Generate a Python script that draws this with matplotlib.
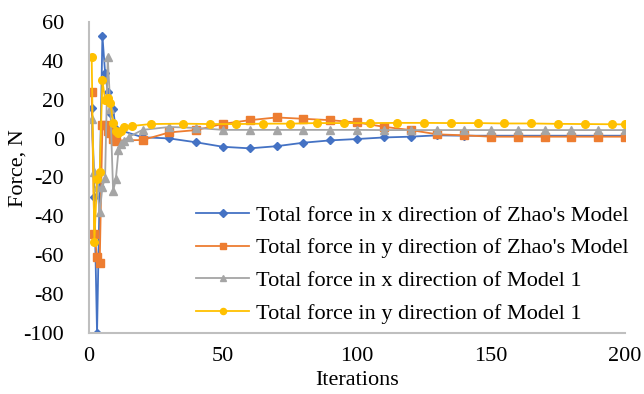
import matplotlib
matplotlib.use("Agg")
import matplotlib.pyplot as plt

plt.rcParams['font.family'] = ['Liberation Serif', 'DejaVu Serif']
plt.rcParams['axes.unicode_minus'] = False

# Zhao's model, sampled every iteration up to 10, then every 10
zhao_iter = [1, 2, 3, 4, 5, 6, 7, 8, 9, 10,
             20, 30, 40, 50, 60, 70, 80, 90, 100,
             110, 120, 130, 140, 150, 160, 170, 180, 190, 200]
zhao_fx = [16, -30, -100, -25, 53, 34, 24, 13, 15, 5,
           0.7, 0.1, -1.9, -4.2, -5.0, -3.9, -2.1, -0.9, -0.2,
           0.6, 1.0, 1.7, 1.5, 1.5, 1.5, 1.5, 1.5, 1.5, 1.5]
zhao_fy = [24, -49, -61, -64, 7, 7, 4, 3, 0, -1,
           -0.7, 3.2, 4.4, 7.6, 9.5, 10.9, 10.2, 9.5, 8.3,
           6.1, 4.4, 2.2, 1.7, 1.0, 1.0, 1.0, 1.0, 1.0, 1.0]

# Model 1
m1x_iter = [1, 2, 3, 4, 5, 6, 7, 8, 9, 10, 11, 12, 13, 15,
            20, 30, 40, 50, 60, 70, 80, 90, 100,
            110, 120, 130, 140, 150, 160, 170, 180, 190, 200]
m1_fx = [10, -17, -25, -38, -25, -20, 42, 15, -27, -21, -6, -3, -1, 1,
         4.5, 6.0, 5.5, 4.5, 4.5, 4.5, 4.5, 4.5, 4.5,
         4.4, 4.4, 4.4, 4.4, 4.4, 4.4, 4.4, 4.4, 4.4, 4.4]

m1y_iter = [1, 2, 3, 4, 5, 6, 7, 8, 9, 10, 11, 12, 13, 16, 23,
            35, 45, 55, 65, 75, 85, 95, 105, 115, 125, 135,
            145, 155, 165, 175, 185, 195, 200]
m1_fy = [42, -53, -21, -17, 30, 20, 21, 18.5, 8, 4, 3, 4, 6, 6.5, 7.5,
         7.7, 7.5, 7.5, 7.7, 7.7, 8.0, 8.0, 8.0, 8.1, 8.1, 8.0,
         8.0, 7.8, 7.8, 7.6, 7.5, 7.4, 7.3]

fig = plt.figure(figsize=(6.44, 3.94), dpi=100)
ax = fig.add_axes([89 / 644, 1 - 333 / 394, 536 / 644, 311 / 394])

ax.plot(zhao_iter, zhao_fx, color='#4472C4', marker='D', markersize=4.5, lw=1.3,
        label="Total force in x direction of Zhao's Model")
ax.plot(zhao_iter, zhao_fy, color='#ED7D31', marker='s', markersize=5.5, lw=1.3,
        label="Total force in y direction of Zhao's Model")
ax.plot(m1x_iter, m1_fx, color='#A5A5A5', marker='^', markersize=6, lw=1.3,
        label="Total force in x direction of Model 1")
ax.plot(m1y_iter, m1_fy, color='#FFC000', marker='o', markersize=5.5, lw=1.3,
        label="Total force in y direction of Model 1")

ax.set_xlim(0, 200)
ax.set_ylim(-100, 60)
ax.set_xticks([0, 50, 100, 150, 200])
ax.set_yticks(range(-100, 61, 20))
ax.tick_params(length=0, labelsize=16, pad=10)
ax.tick_params(axis='y', pad=18)

for side in ['top', 'right']:
    ax.spines[side].set_visible(False)
for side in ['left', 'bottom']:
    ax.spines[side].set_color('#BFBFBF')
    ax.spines[side].set_linewidth(1.5)

ax.set_xlabel('Iterations', fontsize=16, labelpad=4)
ax.set_ylabel('Force, N', fontsize=16)
ax.yaxis.set_label_coords(-0.114, 0.53)

ax.legend(loc='upper left', bbox_to_anchor=(196 / 644, 1 - 205 / 394),
          bbox_transform=fig.transFigure, frameon=False, fontsize=16,
          handlelength=2.4, handletextpad=0.3, labelspacing=0.55,
          borderpad=0, borderaxespad=0, markerscale=0.8)

plt.savefig('out.png', dpi=100)
plt.close()
